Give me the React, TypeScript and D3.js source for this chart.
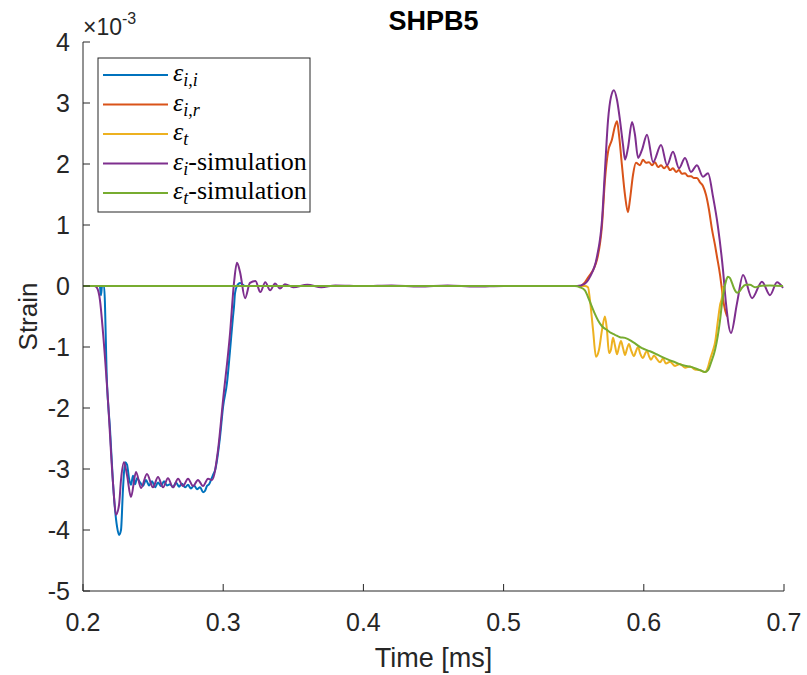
import React from "react";
import * as d3 from "d3";

// time in ms, strain in units of 1e-3
const timeTicks = [0.2, 0.3, 0.4, 0.5, 0.6, 0.7];
const strainTicks = [-5, -4, -3, -2, -1, 0, 1, 2, 3, 4];

const incidentMeasured: [number, number][] = [
  [0.2, 0], [0.212, 0], [0.2128, -0.15], [0.2136, 0], [0.215, 0],
  [0.2171, -1.59], [0.2193, -2.36], [0.2214, -3.23], [0.2243, -3.95], [0.2257, -4.08],
  [0.2271, -4.0], [0.2285, -3.34], [0.23, -2.89], [0.2314, -2.93], [0.2328, -3.15],
  [0.2342, -3.26], [0.2357, -3.11], [0.2371, -3.25], [0.2385, -3.15], [0.2407, -3.22],
  [0.2428, -3.28], [0.2449, -3.18], [0.2471, -3.27], [0.2492, -3.2], [0.2514, -3.3],
  [0.2535, -3.22], [0.2556, -3.28], [0.2578, -3.2], [0.2599, -3.27], [0.2621, -3.25],
  [0.2642, -3.3], [0.2663, -3.22], [0.2685, -3.29], [0.2706, -3.24], [0.2728, -3.3],
  [0.2749, -3.26], [0.277, -3.32], [0.2792, -3.27], [0.2813, -3.33], [0.2835, -3.3],
  [0.2856, -3.38], [0.287, -3.36], [0.2884, -3.28], [0.2899, -3.25], [0.2913, -3.18],
  [0.2927, -3.1], [0.2942, -3.02], [0.2977, -2.48], [0.2999, -1.98], [0.3027, -1.59],
  [0.3049, -1.05], [0.307, -0.5], [0.3077, -0.34], [0.3084, -0.12], [0.3098, 0],
  [0.312, 0.05], [0.3156, 0], [0.55, 0],
];

const reflectedMeasured: [number, number][] = [
  [0.2, 0], [0.555, 0], [0.558, 0.06], [0.56, 0.13], [0.5666, 0.43], [0.5702, 1.0],
  [0.5723, 1.74], [0.5745, 2.2], [0.5773, 2.4], [0.5794, 2.62], [0.5809, 2.7],
  [0.5823, 2.48], [0.5844, 1.98], [0.5866, 1.49], [0.5887, 1.21], [0.5901, 1.41],
  [0.5923, 1.82], [0.5944, 2.02], [0.5973, 1.98], [0.5994, 2.07], [0.6016, 2.02],
  [0.6037, 2.03], [0.6059, 1.98], [0.608, 2.03], [0.6101, 1.95], [0.6123, 1.98],
  [0.6144, 1.93], [0.6166, 1.97], [0.6187, 1.9], [0.6208, 1.93], [0.623, 1.87],
  [0.6251, 1.9], [0.6272, 1.84], [0.6294, 1.85], [0.6315, 1.8], [0.6337, 1.8],
  [0.6358, 1.77], [0.6379, 1.77], [0.6401, 1.7], [0.6422, 1.64], [0.6444, 1.49],
  [0.6465, 1.25], [0.6487, 0.92], [0.6508, 0.67], [0.6522, 0.48], [0.6544, 0.18],
  [0.6558, -0.07], [0.6572, -0.31], [0.6594, -0.5],
];

const transmittedMeasured: [number, number][] = [
  [0.2, 0], [0.558, 0], [0.5602, -0.02], [0.5616, -0.23], [0.5638, -0.72],
  [0.5659, -1.16], [0.568, -1.05], [0.5702, -0.72], [0.5723, -0.5], [0.5737, -0.72],
  [0.5752, -1.1], [0.5766, -1.04], [0.578, -0.85], [0.5794, -0.97], [0.5809, -1.12],
  [0.5823, -1.0], [0.5837, -0.9], [0.5852, -1.02], [0.5866, -1.13], [0.588, -1.03],
  [0.5894, -0.95], [0.5909, -1.05], [0.593, -1.15], [0.5944, -1.07], [0.5959, -1.0],
  [0.5973, -1.1], [0.5994, -1.18], [0.6009, -1.11], [0.6023, -1.06], [0.6037, -1.15],
  [0.6051, -1.21], [0.6073, -1.14], [0.6094, -1.2], [0.6116, -1.25], [0.6137, -1.19],
  [0.6158, -1.27], [0.6187, -1.24], [0.6223, -1.31], [0.6258, -1.28], [0.6294, -1.34],
  [0.633, -1.32], [0.6365, -1.37], [0.6401, -1.38], [0.6437, -1.41], [0.6458, -1.33],
  [0.6472, -1.21], [0.6494, -1.05], [0.6508, -0.93], [0.6529, -0.56], [0.6544, -0.31],
  [0.6558, -0.18], [0.6565, 0],
];

const incidentSim: [number, number][] = [
  [0.2, 0], [0.208, 0], [0.21, -0.03], [0.2121, -0.23], [0.2143, -0.77], [0.2178, -1.87],
  [0.2214, -3.23], [0.2235, -3.75], [0.2257, -3.59], [0.2271, -3.18], [0.2292, -2.89],
  [0.2314, -3.1], [0.2342, -3.46], [0.2378, -3.05], [0.2414, -3.31], [0.2456, -3.08],
  [0.2499, -3.3], [0.2535, -3.13], [0.2571, -3.3], [0.2606, -3.15], [0.2642, -3.3],
  [0.2678, -3.16], [0.2713, -3.28], [0.2749, -3.16], [0.2785, -3.28], [0.282, -3.18],
  [0.2856, -3.28], [0.2892, -3.16], [0.292, -3.18], [0.2963, -2.69], [0.2999, -1.87],
  [0.3049, -0.77], [0.3077, 0.05], [0.3098, 0.38], [0.312, 0.23], [0.3156, -0.2],
  [0.3191, 0.05], [0.323, 0.08], [0.3265, -0.1], [0.33, 0.06], [0.3335, -0.07],
  [0.337, 0.04], [0.3405, -0.04], [0.344, 0.03], [0.35, -0.02], [0.36, 0.02],
  [0.37, -0.02], [0.38, 0.01], [0.4, 0], [0.42, 0.01], [0.44, -0.01], [0.46, 0.01],
  [0.48, -0.01], [0.5, 0], [0.5524, 0], [0.558, 0.04], [0.5616, 0.15], [0.5666, 0.48],
  [0.5702, 1.08], [0.5723, 1.9], [0.5745, 2.72], [0.5766, 3.1], [0.5787, 3.21],
  [0.5809, 3.05], [0.583, 2.72], [0.5852, 2.31], [0.5866, 2.07], [0.5887, 2.26],
  [0.5916, 2.69], [0.5937, 2.48], [0.5959, 2.1], [0.5987, 2.23], [0.6023, 2.48],
  [0.6066, 2.03], [0.6123, 2.31], [0.6166, 1.98], [0.6208, 2.2], [0.6251, 1.93],
  [0.6294, 2.1], [0.6337, 1.87], [0.6379, 1.98], [0.6422, 1.79], [0.6458, 1.85],
  [0.6494, 1.46], [0.6529, 0.97], [0.6565, 0.26], [0.6586, -0.28], [0.6622, -0.77],
  [0.6665, -0.28], [0.6708, 0.18], [0.6772, -0.2], [0.6843, 0.07], [0.69, -0.15],
  [0.695, 0.06], [0.6993, -0.03],
];

const transmittedSim: [number, number][] = [
  [0.2, 0], [0.548, 0], [0.5509, 0], [0.5545, -0.02], [0.558, -0.07], [0.5602, -0.18],
  [0.563, -0.34], [0.5652, -0.46], [0.5673, -0.56], [0.5702, -0.66], [0.5737, -0.72],
  [0.5766, -0.77], [0.5794, -0.8], [0.583, -0.84], [0.5866, -0.85], [0.5923, -0.92],
  [0.5987, -1.02], [0.6044, -1.07], [0.6101, -1.13], [0.6166, -1.2], [0.6223, -1.25],
  [0.628, -1.3], [0.6344, -1.33], [0.6401, -1.38], [0.6437, -1.41], [0.6458, -1.38],
  [0.6479, -1.26], [0.6508, -1.05], [0.6529, -0.8], [0.6544, -0.56], [0.6558, -0.28],
  [0.6572, -0.07], [0.6586, 0.08], [0.66, 0.15], [0.6615, 0.13], [0.6629, 0.05],
  [0.665, -0.07], [0.6665, -0.11], [0.6686, -0.08], [0.67, -0.03], [0.6729, 0.02],
  [0.6757, 0.02], [0.6793, -0.02], [0.6829, 0], [0.69, 0.01], [0.6993, 0],
];

const seriesList = [
  { name: "i,i", suffix: "", data: incidentMeasured, color: "#0072BD" },
  { name: "i,r", suffix: "", data: reflectedMeasured, color: "#D95319" },
  { name: "t", suffix: "", data: transmittedMeasured, color: "#EDB120" },
  { name: "i", suffix: "-simulation", data: incidentSim, color: "#7E2F8E" },
  { name: "t", suffix: "-simulation", data: transmittedSim, color: "#77AC30" },
];

const W = 807;
const H = 675;
const margin = { top: 42, right: 23, bottom: 84, left: 83 };
const sans = "'Liberation Sans', Arial, Helvetica, sans-serif";
const serif = "'Liberation Serif', 'Times New Roman', serif";
const axisColor = "#262626";

export default function App() {
  const x = d3.scaleLinear().domain([0.2, 0.7]).range([margin.left, W - margin.right]);
  const y = d3.scaleLinear().domain([-5, 4]).range([H - margin.bottom, margin.top]);
  const [x0, x1] = x.range();
  const [y0, y1] = y.range();

  // monotone keeps the long flat stretches flat
  const line = d3
    .line<[number, number]>()
    .x((d) => x(d[0]))
    .y((d) => y(d[1]))
    .curve(d3.curveMonotoneX);

  const legX = 98;
  const legY = 58;
  const rowH = 29.5;

  return (
    <svg width={W} height={H} style={{ position: "absolute", left: 0, top: 0, background: "#fff" }}>
      <rect x={0} y={0} width={W} height={H} fill="#fff" />
      <defs>
        <clipPath id="plotclip">
          <rect x={x0} y={y1} width={x1 - x0} height={y0 - y1} />
        </clipPath>
      </defs>

      <g clipPath="url(#plotclip)">
        {seriesList.map((s, i) => (
          <path
            key={i}
            d={line(s.data) || ""}
            fill="none"
            stroke={s.color}
            strokeWidth={2}
            strokeLinejoin="round"
          />
        ))}
      </g>

      {/* axes */}
      <line x1={x0} x2={x0} y1={y1} y2={y0} stroke={axisColor} strokeWidth={1} />
      <line x1={x0} x2={x1} y1={y0} y2={y0} stroke={axisColor} strokeWidth={1} />
      {strainTicks.map((t) => (
        <g key={"y" + t}>
          <line x1={x0} x2={x0 + 7} y1={y(t)} y2={y(t)} stroke={axisColor} />
          <text
            x={x0 - 13}
            y={y(t) + 9}
            textAnchor="end"
            fontFamily={sans}
            fontSize={25}
            fill={axisColor}
          >
            {t}
          </text>
        </g>
      ))}
      {timeTicks.map((t) => (
        <g key={"x" + t}>
          <line x1={x(t)} x2={x(t)} y1={y0} y2={y0 - 7} stroke={axisColor} />
          <text
            x={x(t)}
            y={y0 + 40}
            textAnchor="middle"
            fontFamily={sans}
            fontSize={25}
            fill={axisColor}
          >
            {t.toFixed(1)}
          </text>
        </g>
      ))}

      {/* exponent */}
      <text x={x0} y={35} fontFamily={sans} fontSize={23} fill={axisColor}>
        <tspan>×10</tspan>
        <tspan dy={-11} fontSize={16}>-3</tspan>
      </text>

      {/* labels */}
      <text
        x={(x0 + x1) / 2}
        y={30}
        textAnchor="middle"
        fontFamily={sans}
        fontSize={27}
        fontWeight="bold"
        fill="#000"
      >
        SHPB5
      </text>
      <text
        x={(x0 + x1) / 2}
        y={667}
        textAnchor="middle"
        fontFamily={sans}
        fontSize={27}
        fill={axisColor}
      >
        Time [ms]
      </text>
      <text
        transform={`translate(37,${(y0 + y1) / 2}) rotate(-90)`}
        textAnchor="middle"
        fontFamily={sans}
        fontSize={26}
        fill={axisColor}
      >
        Strain
      </text>

      {/* legend */}
      <rect x={legX} y={legY} width={212} height={154} fill="#fff" stroke={axisColor} strokeWidth={1} />
      {seriesList.map((s, i) => {
        const ry = legY + 17 + i * rowH;
        return (
          <g key={"leg" + i}>
            <line x1={legX + 5} x2={legX + 70} y1={ry} y2={ry} stroke={s.color} strokeWidth={2} />
            <text x={legX + 75} y={ry + 6} fontFamily={serif} fontSize={26} fill="#000">
              <tspan fontStyle="italic">ε</tspan>
              <tspan fontStyle="italic" fontSize={18} dy={5}>
                {s.name}
              </tspan>
              {s.suffix ? <tspan dy={-5}>{s.suffix}</tspan> : null}
            </text>
          </g>
        );
      })}
    </svg>
  );
}
